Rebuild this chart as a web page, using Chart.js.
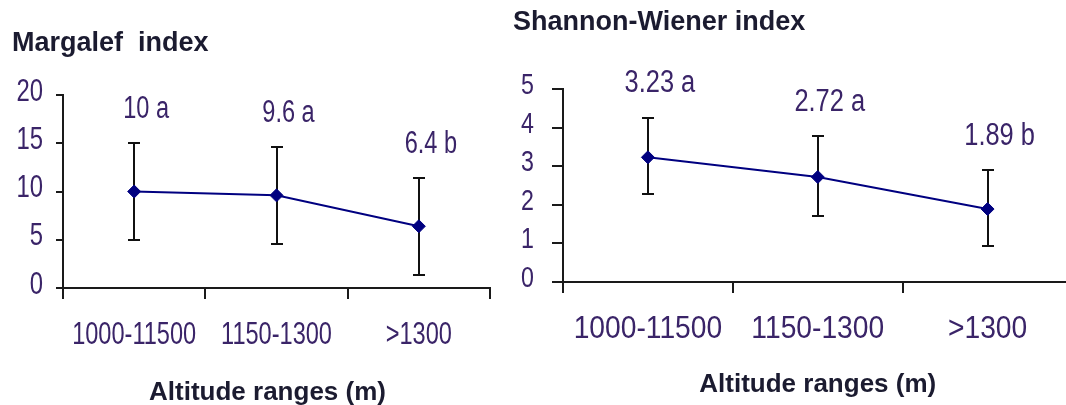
<!DOCTYPE html>
<html>
<head>
<meta charset="utf-8">
<script src="https://cdn.jsdelivr.net/npm/chart.js@4"></script>
<style>
  html, body { margin: 0; padding: 0; background: #fff; overflow: hidden; width: 1066px; height: 405px; }
  canvas { position: absolute; top: 0; }
  #chart1 { left: 0; }
  #chart2 { left: 500px; }
</style>
</head>
<body>
<canvas id="chart1" width="500" height="405"></canvas>
<canvas id="chart2" width="580" height="405"></canvas>
<script>
// data
const categories = ['1000-11500', '1150-1300', '>1300'];

const margalefMean = [10, 9.6, 6.4];
const margalefUpper = [15, 14.6, 11.4];
const margalefLower = [5, 4.6, 1.3];
const margalefGroup = ['a', 'a', 'b'];
const margalefTicks = [0, 5, 10, 15, 20];

const shannonMean = [3.23, 2.72, 1.89];
const shannonUpper = [4.25, 3.77, 2.9];
const shannonLower = [2.28, 1.71, 0.92];
const shannonGroup = ['a', 'a', 'b'];
const shannonTicks = [0, 1, 2, 3, 4, 5];

const navy = '#000080';
const axisColor = '#1a1a1a';
const labelColor = '#3a2468';
const titleColor = '#1b1b30';
const textFamily = '"Liberation Sans", Arial, sans-serif';

// no narrow font installed, so squeeze regular text horizontally
function squeezed(ctx, text, x, y, sx, align) {
    ctx.save();
    ctx.translate(x, y);
    ctx.scale(sx, 1);
    ctx.textAlign = align;
    ctx.fillText(text, 0, 0);
    ctx.restore();
}

// error bars, tick labels, value labels and titles
const extras = {
    id: 'extras',
    beforeDatasetsDraw(chart, args, opts) {
        const {ctx, scales: {x, y}} = chart;
        ctx.save();
        ctx.strokeStyle = '#111';
        ctx.lineWidth = 2;
        opts.upper.forEach((u, i) => {
            const px = Math.round(x.getPixelForValue(i));
            const top = Math.round(y.getPixelForValue(u));
            const bot = Math.round(y.getPixelForValue(opts.lower[i]));
            ctx.beginPath();
            ctx.moveTo(px, top); ctx.lineTo(px, bot);
            ctx.moveTo(px - 6, top); ctx.lineTo(px + 6, top);
            ctx.moveTo(px - 6, bot); ctx.lineTo(px + 6, bot);
            ctx.stroke();
        });
        ctx.restore();
    },
    afterDraw(chart, args, opts) {
        const {ctx, chartArea, scales: {x, y}} = chart;
        ctx.save();
        ctx.fillStyle = titleColor;
        ctx.textBaseline = 'alphabetic';
        ctx.font = 'bold 27px ' + textFamily;
        ctx.textAlign = 'left';
        ctx.fillText(opts.title, opts.titleX, opts.titleY);
        ctx.font = 'bold 26px ' + textFamily;
        ctx.textAlign = 'center';
        ctx.fillText(opts.axisTitle, (chartArea.left + chartArea.right) / 2 + opts.axisShift, opts.axisY);

        ctx.fillStyle = labelColor;
        ctx.textBaseline = 'middle';

        // category labels
        ctx.font = '31px ' + textFamily;
        x.ticks.forEach((t, i) => {
            squeezed(ctx, t.label, x.getPixelForTick(i), chartArea.bottom + 47, opts.xSqueeze, 'center');
        });
        // value axis labels
        ctx.font = opts.ySize + 'px ' + textFamily;
        y.ticks.forEach((t, i) => {
            squeezed(ctx, t.label, chartArea.left - opts.yGap, y.getPixelForTick(i) - 3, opts.ySqueeze, 'right');
        });
        // mean + group letters above the error bars
        ctx.font = '31px ' + textFamily;
        opts.mean.forEach((m, i) => {
            squeezed(ctx, m + ' ' + opts.group[i], x.getPixelForValue(i) + 12,
                y.getPixelForValue(opts.upper[i]) - 34, opts.labelSqueeze, 'center');
        });
        ctx.restore();
    }
};

function buildChart(id, s) {
    return new Chart(id, {
        type: 'line',
        data: {
            labels: categories,
            datasets: [{
                data: s.mean,
                borderColor: navy,
                backgroundColor: navy,
                borderWidth: 2,
                pointStyle: 'rectRot',
                pointRadius: 6.5,
                pointHoverRadius: 6.5,
                pointBorderWidth: 1,
                tension: 0
            }]
        },
        options: {
            responsive: false,
            animation: false,
            layout: { padding: { top: s.top, right: s.right, left: 0, bottom: 0 } },
            plugins: {
                legend: { display: false },
                tooltip: { enabled: false },
                extras: {
                    mean: s.mean, upper: s.upper, lower: s.lower, group: s.group,
                    title: s.title, titleX: s.titleX, titleY: s.titleY,
                    axisTitle: 'Altitude ranges (m)', axisShift: s.axisShift, axisY: s.axisY,
                    xSqueeze: s.xSqueeze, ySqueeze: s.ySqueeze, labelSqueeze: s.labelSqueeze,
                    ySize: s.ySize, yGap: s.yGap
                }
            },
            scales: {
                x: {
                    offset: true,
                    grid: { offset: true, drawOnChartArea: false, tickLength: 11, color: axisColor, lineWidth: 2 },
                    border: { color: axisColor, width: 2 },
                    ticks: { display: false, autoSkip: false, maxRotation: 0 },
                    afterFit: sc => { sc.height = s.xHeight; }
                },
                y: {
                    min: s.ticks[0],
                    max: s.ticks[s.ticks.length - 1],
                    grid: { drawOnChartArea: false, tickLength: s.yTickLen, color: axisColor, lineWidth: 2 },
                    border: { color: axisColor, width: 2 },
                    ticks: { display: false, autoSkip: false, stepSize: s.ticks[1] - s.ticks[0] },
                    afterFit: sc => { sc.width = 63; }
                }
            }
        },
        plugins: [extras]
    });
}

buildChart('chart1', {
    mean: margalefMean, upper: margalefUpper, lower: margalefLower, group: margalefGroup, ticks: margalefTicks,
    title: 'Margalef  index', titleX: 12, titleY: 51,
    axisShift: -9, axisY: 400,
    top: 95, right: 10, xHeight: 117, yTickLen: 7,
    xSqueeze: 0.76, ySqueeze: 0.77, labelSqueeze: 0.76, ySize: 31, yGap: 20
});

buildChart('chart2', {
    mean: shannonMean, upper: shannonUpper, lower: shannonLower, group: shannonGroup, ticks: shannonTicks,
    title: 'Shannon-Wiener index', titleX: 13, titleY: 30,
    axisShift: 0, axisY: 392,
    top: 89, right: 7, xHeight: 123, yTickLen: 11,
    xSqueeze: 0.91, ySqueeze: 0.8, labelSqueeze: 0.82, ySize: 29, yGap: 29
});
</script>
</body>
</html>
